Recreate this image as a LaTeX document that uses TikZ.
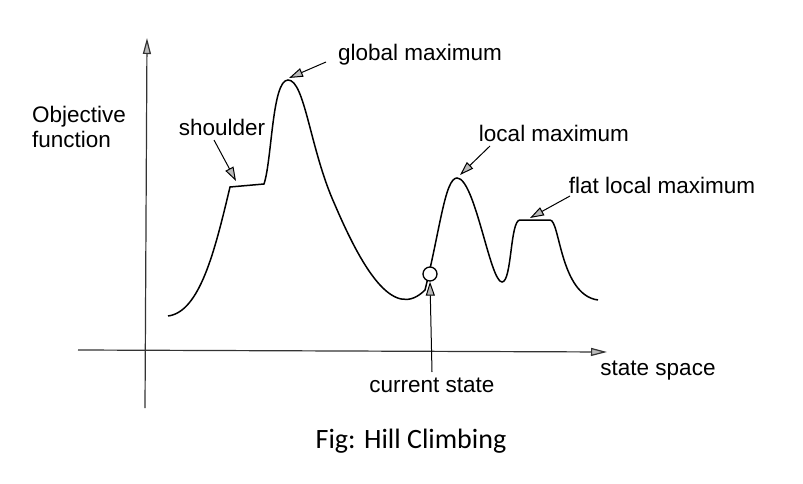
\documentclass[tikz,border=0pt]{standalone}
\usepackage{fontspec}
\setmainfont{Liberation Sans}
\newfontfamily\capfont{Carlito}
\usetikzlibrary{arrows.meta}
\begin{document}
\begin{tikzpicture}[x=1pt,y=-1pt,
  ptr/.style={draw=black,line width=1pt,-{Triangle[fill=gray!55,length=14pt,width=9pt]}},
  lbl/.style={font=\fontsize{22.5}{25}\selectfont,inner sep=0pt},
  ax/.style={draw=black!80,line width=1.2pt,-{Triangle[fill=gray!55,length=16pt,width=8pt]}}]
\useasboundingbox (0,0) rectangle (803,484);
\coordinate (yb) at (145,408); \coordinate (yt) at (147,38);
\coordinate (xl) at (78,350); \coordinate (xr) at (607,352);
\draw[ax] (yb) -- (yt);
\draw[ax] (xl) -- (xr);
\draw[line width=1.5pt] (168,316) .. controls (200,312) and (215,250) .. (230,187)
  -- (264,184) .. controls (272,160) and (272,80) .. (288,80)
  .. controls (305,80) and (310,150) .. (335,205)
  .. controls (365,275) and (395,320) .. (425,290)
  .. controls (440,230) and (445,178) .. (457,178)
  .. controls (475,178) and (490,282) .. (502,282)
  .. controls (512,282) and (510,220) .. (520,220)
  -- (550,220) .. controls (560,220) and (560,295) .. (598,300);
\node[draw,line width=1.3pt,circle,fill=white,minimum size=14pt,inner sep=0pt] (cs) at (430,274) {};
\node[lbl,align=left,anchor=west] (of) at (32,127) {Objective\\function};
\node[lbl] (sh) at (222,127) {shoulder};
\node[lbl] (gm) at (420,55) {global maximum};
\node[lbl] (lm) at (554,133) {local maximum};
\node[lbl] (flm) at (662,185) {flat local maximum};
\node[lbl] (cst) at (432,385) {current state};
\node[lbl] (ss) at (658,371) {state space};
\node[inner sep=0pt,font=\capfont\fontsize{28}{32}\selectfont] (fig) at (411,441) {Fig: Hill Climbing};
\coordinate (shp) at (236,181); \coordinate (gmp) at (289,78);
\coordinate (lmp) at (460,175); \coordinate (flmp) at (530,218);
\coordinate (shs) at (214,140); \coordinate (gms) at (326,62);
\coordinate (lms) at (490,146); \coordinate (flms) at (570,196);
\coordinate (css) at (432,372);
\draw[ptr] (shs) -- (shp);
\draw[ptr] (gms) -- (gmp);
\draw[ptr] (lms) -- (lmp);
\draw[ptr] (flms) -- (flmp);
\draw[ptr] (css) -- (cs.south);
\end{tikzpicture}
\end{document}
